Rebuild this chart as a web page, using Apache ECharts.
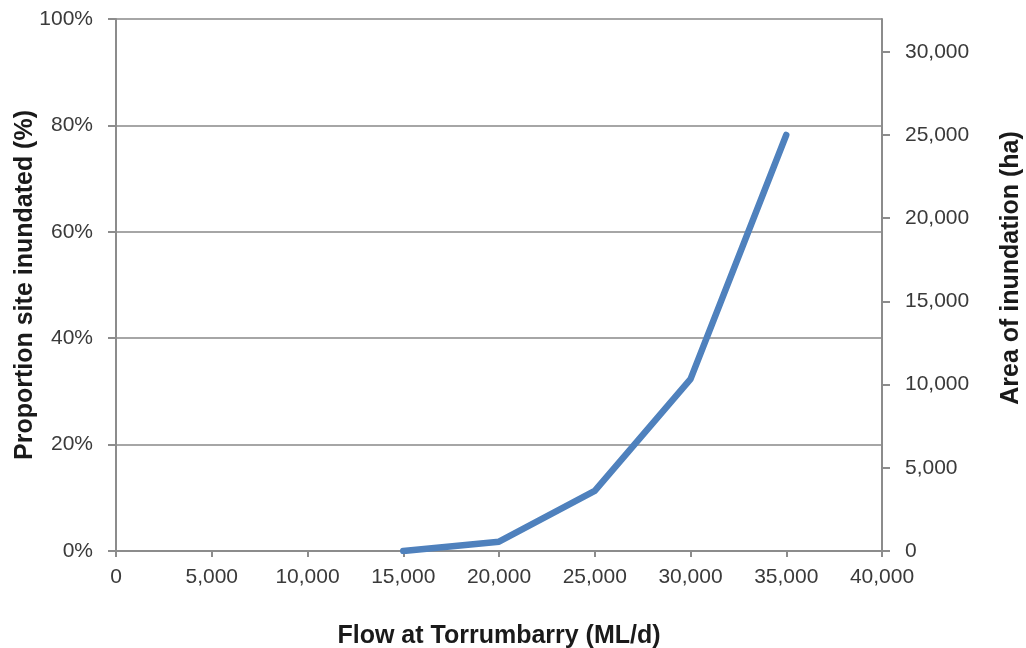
<!DOCTYPE html>
<html>
<head>
<meta charset="utf-8">
<script src="https://cdn.jsdelivr.net/npm/echarts@6/dist/echarts.min.js"></script>
<style>html,body{margin:0;padding:0;background:#fff}#c{width:1026px;height:648px}</style>
</head>
<body>
<div id="c"></div>
<script>
const flow = [15000, 20000, 25000, 30000, 35000];
const proportion = [0, 1.75, 11.3, 32.3, 78.2];
const areaTicks = [0, 5000, 10000, 15000, 20000, 25000, 30000];
const xTitle = 'Flow at Torrumbarry (ML/d)';
const yLeftTitle = 'Proportion site inundated (%)';
const yRightTitle = 'Area of inundation (ha)';
const areaMax = 31970;

const fmt = v => Number(v).toLocaleString('en-US');
const font = '"Liberation Sans", Arial, sans-serif';
const labelStyle = {color: '#3a3a3a', fontSize: 21, fontFamily: font};
const titleStyle = {color: '#1a1a1a', fontSize: 25, fontWeight: 'bold', fontFamily: font};
const axisLine = {show: true, lineStyle: {color: '#8c8c8c', width: 2}};

const chart = echarts.init(document.getElementById('c'), null, {renderer: 'canvas'});
chart.setOption({
  animation: false,
  grid: {left: 116, right: 144, top: 19, bottom: 97, outerBoundsMode: 'none', containLabel: false},
  xAxis: {
    type: 'value', min: 0, max: 40000, interval: 5000,
    name: xTitle, nameLocation: 'middle', nameGap: 73, nameMoveOverlap: false, nameTextStyle: titleStyle,
    axisLine: axisLine,
    axisTick: {show: true, length: 6, lineStyle: {color: '#8c8c8c', width: 2}},
    axisLabel: Object.assign({margin: 16, formatter: fmt}, labelStyle),
    splitLine: {show: false}
  },
  yAxis: [{
    type: 'value', min: 0, max: 100, interval: 20, position: 'left',
    name: yLeftTitle, nameLocation: 'middle', nameGap: 78, nameRotate: 90, nameMoveOverlap: false,
    nameTextStyle: titleStyle,
    axisLine: axisLine,
    axisTick: {show: true, length: 8, lineStyle: {color: '#8c8c8c', width: 2}},
    axisLabel: Object.assign({margin: 23, formatter: '{value}%'}, labelStyle),
    splitLine: {show: true, lineStyle: {color: '#a6a6a6', width: 2}}
  }, {
    type: 'value', min: 0, max: areaMax, position: 'right',
    name: yRightTitle, nameLocation: 'middle', nameGap: 117, nameRotate: 90, nameMoveOverlap: false,
    nameTextStyle: Object.assign({padding: [0, 0, 0, 34]}, titleStyle),
    axisLine: axisLine,
    axisTick: {show: true, length: 8, customValues: areaTicks, lineStyle: {color: '#8c8c8c', width: 2}},
    axisLabel: Object.assign({margin: 23, formatter: fmt, customValues: areaTicks}, labelStyle),
    splitLine: {show: false}
  }],
  series: [{
    type: 'line',
    yAxisIndex: 0,
    data: flow.map((f, i) => [f, proportion[i]]),
    showSymbol: false,
    lineStyle: {color: '#4f81bd', width: 6.5, cap: 'round', join: 'round'}
  }]
});
</script>
</body>
</html>
